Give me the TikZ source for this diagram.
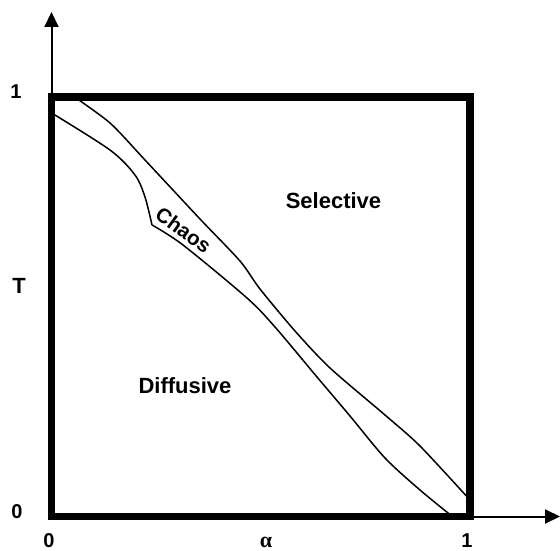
\documentclass[tikz,border=0pt]{standalone}
\usepackage{fontspec}
\setmainfont{Liberation Sans}
\newfontfamily\greekfont{Liberation Serif}
\usetikzlibrary{arrows.meta}
\begin{document}
\begin{tikzpicture}[x=1pt,y=-1pt,
  lbl/.style={font=\bfseries\fontsize{22}{26}\selectfont, inner sep=0pt, anchor=base},
  num/.style={font=\bfseries\fontsize{20}{24}\selectfont, inner sep=0pt, anchor=base},
  boxline/.style={line width=7.5pt, line join=miter},
  curve/.style={line width=1.5pt, line join=round},
  axis/.style={line width=2pt, -{Triangle[length=15pt,width=14pt]}}]
\useasboundingbox (0,0) rectangle (560,551);
% named points
\coordinate (O) at (51.5,516.5);
\coordinate (ytip) at (51.5,12);
\coordinate (xtip) at (560,516.5);
% axes
\draw[axis] (O) -- (ytip);
\draw[axis] (O) -- (xtip);
% boundary curves
\draw[curve] plot[smooth, tension=0.45] coordinates {(73,96) (110,123) (145,160) (200,219) (240,261) (260,289) (295,331) (330,368) (385,415) (420,446) (470,500)};
\draw[curve] plot[smooth, tension=0.5] coordinates {(50,112) (110,150) (135,175) (145,197) (152,225)};
\draw[curve] plot[smooth, tension=0.5] coordinates {(152,225) (183,245) (247,298) (275,327) (317,377) (350,416) (385,458) (420,490) (453,517)};
% box
\draw[boxline] (51.5,97) rectangle (470,516.5);
% labels
\node[num] (one) at (16,98.5) {1};
\node[num] (zeroy) at (17,518.5) {0};
\node[lbl] (T) at (19,293) {T};
\node[num] (zerox) at (49,547.5) {0};
\node[num] (onex) at (467,547.5) {1};
\node[inner sep=0pt, anchor=base, font=\greekfont\bfseries\fontsize{22}{26}\selectfont] (alpha) at (266,547) {α};
\node[lbl] (sel) at (333.5,208) {Selective};
\node[lbl] (dif) at (185,393) {Diffusive};
\node[font=\bfseries\fontsize{20.5}{25}\selectfont, inner sep=0pt, rotate=-36] (chaos) at (183.5,230) {Chaos};
\end{tikzpicture}
\end{document}
